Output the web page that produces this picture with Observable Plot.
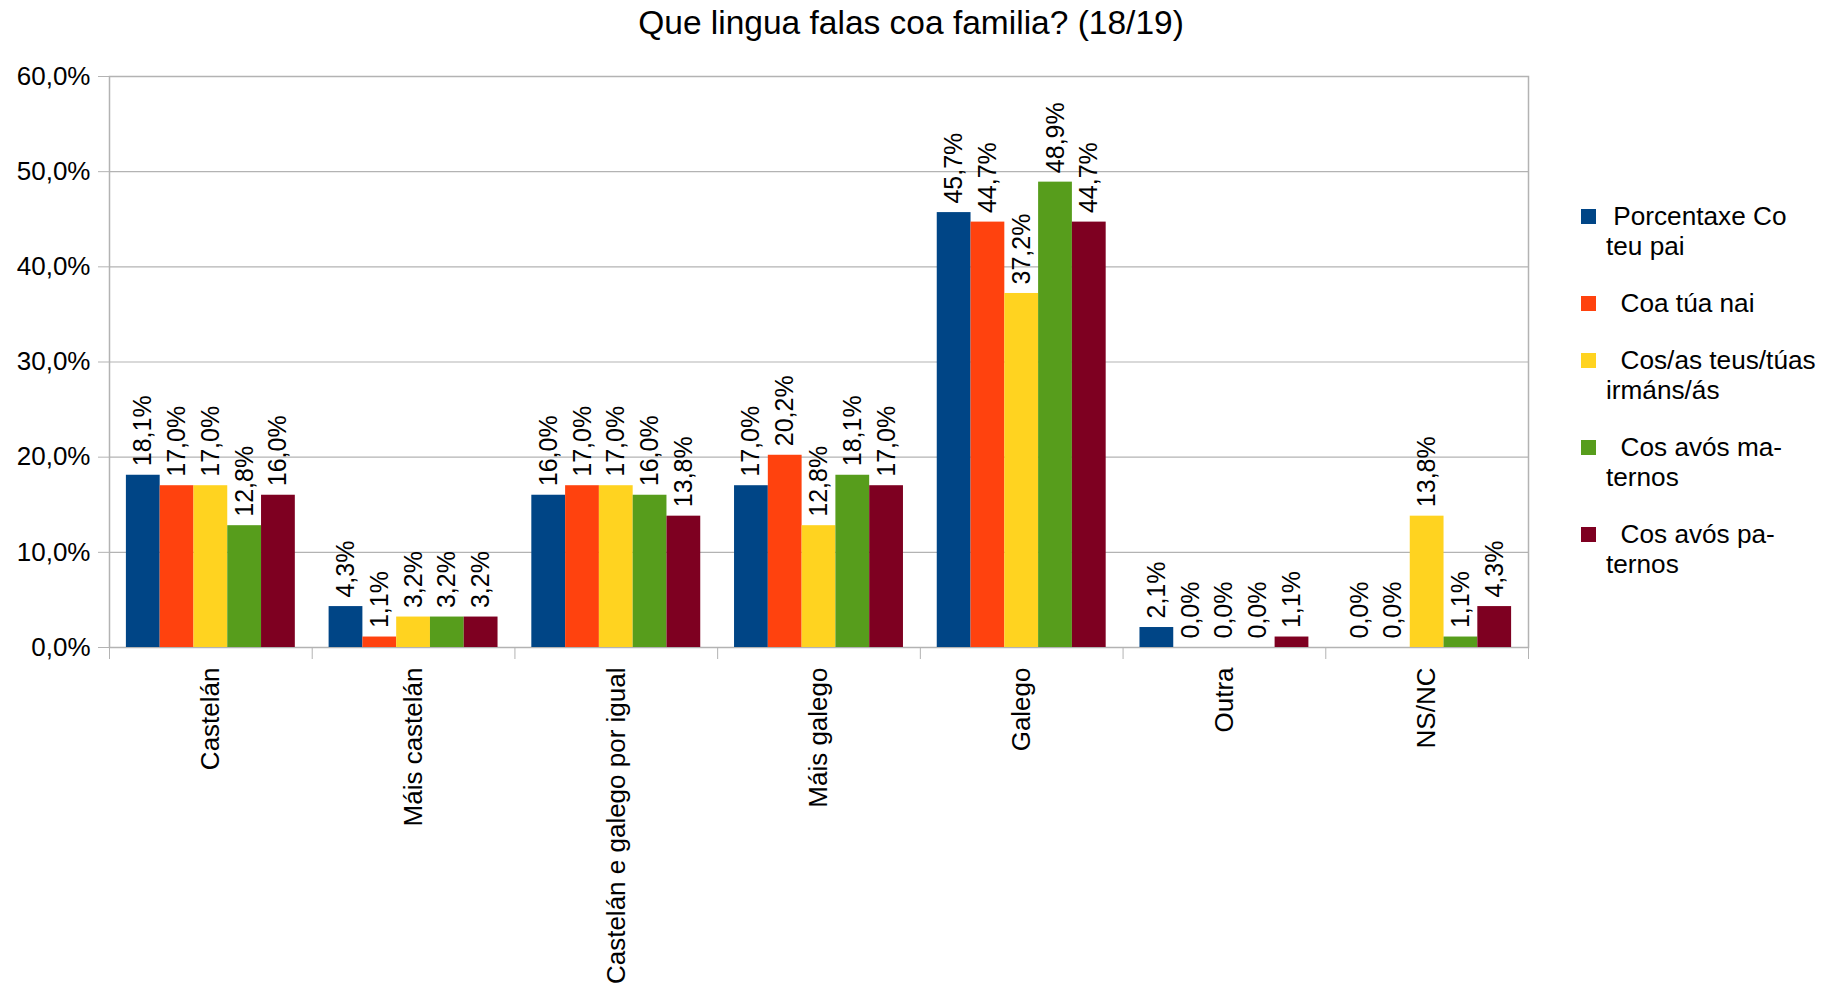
<!DOCTYPE html>
<html>
<head>
<meta charset="utf-8">
<script src="https://cdn.jsdelivr.net/npm/d3@7"></script>
<script src="https://cdn.jsdelivr.net/npm/@observablehq/plot@0.6"></script>
<style>
  html, body { margin: 0; padding: 0; background: #fff; }
  #chart { position: relative; width: 1834px; height: 984px; font-family: "Liberation Sans", Arial, sans-serif; color: #000; }
  #title { position: absolute; top: 3px; left: 0; width: 1822px; text-align: center; font-size: 33.5px; line-height: 40px; }
  #legend { position: absolute; left: 1581px; top: 201px; font-size: 26.2px; line-height: 30px; }
  .item { position: relative; padding-left: 25px; margin-bottom: 27px; white-space: pre; }
  .swatch { position: absolute; left: 0; top: 8px; width: 15px; height: 15px; }
  #plot { position: absolute; left: 0; top: 0; }
</style>
</head>
<body>
<div id="chart">
  <div id="plot"></div>
  <div id="title">Que lingua falas coa familia? (18/19)</div>
  <div id="legend"></div>
</div>
<script>
// Answer categories (x axis)
const categories = ["Castelán", "Máis castelán", "Castelán e galego por igual", "Máis galego", "Galego", "Outra", "NS/NC"];

// Series names as shown in the legend (line breaks kept)
const seriesNames = [
  [" Porcentaxe Co", "teu pai"],
  ["  Coa túa nai"],
  ["  Cos/as teus/túas", "irmáns/ás"],
  ["  Cos avós ma-", "ternos"],
  ["  Cos avós pa-", "ternos"]
];
const seriesColors = ["#004586", "#ff420e", "#ffd320", "#579d1c", "#7e0021"];

// Percentages per category, one array per series
const pai      = [18.1, 4.3, 16.0, 17.0, 45.7, 2.1, 0.0];
const nai      = [17.0, 1.1, 17.0, 20.2, 44.7, 0.0, 0.0];
const irmans   = [17.0, 3.2, 17.0, 12.8, 37.2, 0.0, 13.8];
const avosMat  = [12.8, 3.2, 16.0, 18.1, 48.9, 0.0, 1.1];
const avosPat  = [16.0, 3.2, 13.8, 17.0, 44.7, 1.1, 4.3];

const yTicks = [0, 10, 20, 30, 40, 50, 60];

const seriesValues = [pai, nai, irmans, avosMat, avosPat];
const rows = [];
categories.forEach((c, i) => {
  seriesValues.forEach((vals, j) => {
    rows.push({cat: i, s: j, value: vals[i]});
  });
});

// Each category occupies one unit on x; bars take one slot each, half a slot of padding on either side
const slot = 1 / (seriesValues.length + 1);
const fmt = v => v.toFixed(1).replace(".", ",") + "%";
const grid = "#b3b3b3";

const plot = Plot.plot({
  width: 1834,
  height: 984,
  marginLeft: 109,
  marginRight: 306,
  marginTop: 76,
  marginBottom: 337,
  style: {fontFamily: "Liberation Sans, Arial, sans-serif", fontSize: "26px", color: "#000", background: "transparent"},
  x: {type: "linear", domain: [0, categories.length]},
  y: {domain: [0, 60]},
  color: {domain: d3.range(seriesValues.length), range: seriesColors},
  marks: [
    Plot.gridY(yTicks, {stroke: grid, strokeOpacity: 1, strokeWidth: 1.2}),
    Plot.frame({stroke: grid, strokeWidth: 1.5}),
    Plot.rectY(rows, {
      x1: d => d.cat + slot * (d.s + 0.5),
      x2: d => d.cat + slot * (d.s + 1.5),
      y: "value",
      fill: d => d.s
    }),
    Plot.text(rows, {
      x: d => d.cat + slot * (d.s + 1),
      y: "value",
      text: d => fmt(d.value),
      rotate: -90,
      textAnchor: "start",
      dy: -9,
      fontSize: 25,
      fill: "#000"
    }),
    Plot.axisY({ticks: yTicks, tickFormat: fmt, tickSize: 11, tickPadding: 8, stroke: grid, strokeOpacity: 1, label: null}),
    // category separators below the axis
    Plot.axisX({ticks: d3.range(categories.length + 1), tickSize: 12, tickFormat: () => "", stroke: grid, strokeOpacity: 1, label: null}),
    // category names, centred in each group
    Plot.axisX({
      ticks: categories.map((c, i) => i + 0.5),
      tickFormat: v => categories[Math.floor(v)],
      tickSize: 0,
      tickPadding: 20,
      tickRotate: -90,
      fontSize: 26,
      label: null
    })
  ]
});
document.getElementById("plot").appendChild(plot);

// Legend
const legend = document.getElementById("legend");
seriesNames.forEach((lines, j) => {
  const item = document.createElement("div");
  item.className = "item";
  const sw = document.createElement("div");
  sw.className = "swatch";
  sw.style.background = seriesColors[j];
  item.appendChild(sw);
  const first = document.createElement("div");
  first.textContent = lines[0];
  item.appendChild(first);
  lines.slice(1).forEach(t => {
    const l = document.createElement("div");
    l.textContent = t;
    item.appendChild(l);
  });
  legend.appendChild(item);
});
</script>
</body>
</html>
